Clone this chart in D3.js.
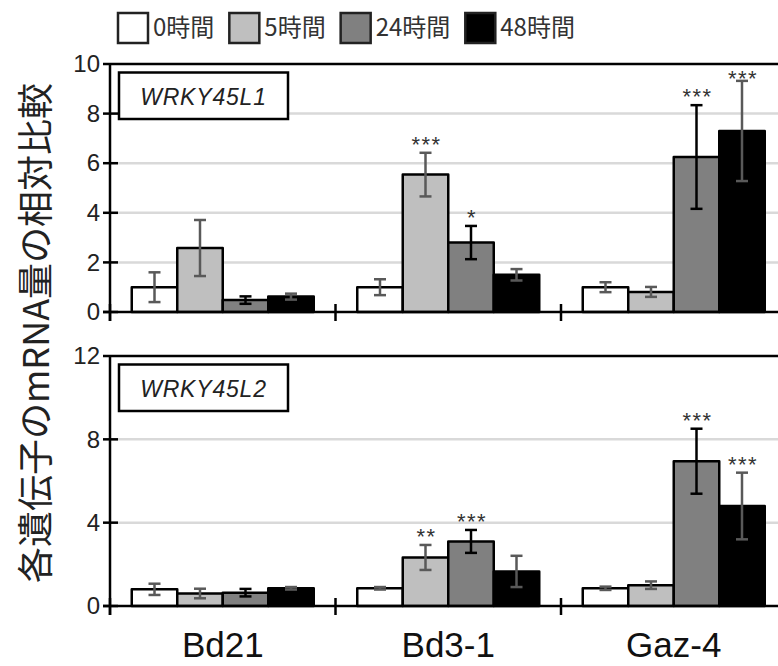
<!DOCTYPE html>
<html lang="ja">
<head>
<meta charset="utf-8">
<script src="https://d3js.org/d3.v7.min.js"></script>
<style>
  body { margin: 0; background: #fff; }
  text { font-family: "Liberation Sans", Arial, sans-serif; }
  .jp { font-family: "Noto Sans CJK JP", "Noto Sans CJK SC", sans-serif; }
</style>
</head>
<body>
<div id="chart"></div>
<script>
// strains (x categories) and time points (series)
var strains = ["Bd21", "Bd3-1", "Gaz-4"];
var times = ["0時間", "5時間", "24時間", "48時間"];
var fills = ["#ffffff", "#bfbfbf", "#808080", "#000000"];
var errColors = ["#595959", "#595959", "#000000", "#595959"];

// WRKY45L1: mean per strain x time
var l1Mean = [
  [1.0, 2.58, 0.48, 0.62],
  [1.0, 5.54, 2.80, 1.50],
  [1.0, 0.81, 6.25, 7.30]
];
var l1Err = [
  [0.6, 1.13, 0.15, 0.12],
  [0.32, 0.88, 0.67, 0.23],
  [0.2, 0.2, 2.09, 2.02]
];
var l1Stars = [
  ["", "", "", ""],
  ["", "***", "*", ""],
  ["", "", "***", "***"]
];

// WRKY45L2
var l2Mean = [
  [0.80, 0.60, 0.64, 0.85],
  [0.85, 2.33, 3.10, 1.66],
  [0.85, 1.00, 6.95, 4.80]
];
var l2Err = [
  [0.27, 0.23, 0.18, 0.06],
  [0.06, 0.60, 0.55, 0.75],
  [0.08, 0.18, 1.56, 1.60]
];
var l2Stars = [
  ["", "", "", ""],
  ["", "**", "***", ""],
  ["", "", "***", "***"]
];

var l1Ticks = [0, 2, 4, 6, 8, 10];
var l2Ticks = [0, 4, 8, 12];

var W = 778, H = 666;
var svg = d3.select("#chart").append("svg").attr("width", W).attr("height", H);

var x0 = 110, groupW = 225.5;
var xGroup = d3.scaleBand().domain(strains).range([x0, x0 + groupW * strains.length]).padding(0);
var xInner = d3.scaleBand().domain(times).range([0, groupW]).paddingInner(0).paddingOuter(0.478);

function panel(opts) {
  var y = d3.scaleLinear().domain([0, opts.max]).range([opts.bottom, opts.top]);
  var g = svg.append("g");

  // gridlines
  g.selectAll(".grid").data(opts.ticks.filter(function(t){ return t > 0 && t < opts.max; }))
    .enter().append("line")
    .attr("x1", x0).attr("x2", W)
    .attr("y1", function(d){ return y(d); }).attr("y2", function(d){ return y(d); })
    .attr("stroke", "#d9d9d9").attr("stroke-width", 2.5);

  // top frame line
  g.append("line").attr("x1", x0).attr("x2", W)
    .attr("y1", y(opts.max)).attr("y2", y(opts.max))
    .attr("stroke", "#000").attr("stroke-width", 2.5);

  // gene label box
  g.append("rect").attr("x", 119).attr("y", y(opts.max) + 8.5).attr("width", 169).attr("height", 46.5)
    .attr("fill", "#fff").attr("stroke", "#000").attr("stroke-width", 2.5);
  g.append("text").attr("x", 203.5).attr("y", y(opts.max) + 41)
    .attr("text-anchor", "middle").attr("font-style", "italic").attr("font-size", 23)
    .attr("letter-spacing", 0.8).attr("fill", "#222").text(opts.gene);

  // bars
  var rows = [];
  opts.mean.forEach(function(r, i) {
    r.forEach(function(v, j) {
      rows.push({ strain: strains[i], t: j, v: v, e: opts.err[i][j], s: opts.stars[i][j] });
    });
  });
  var bw = xInner.bandwidth();
  g.selectAll(".bar").data(rows).enter().append("rect")
    .attr("x", function(d){ return xGroup(d.strain) + xInner(times[d.t]); })
    .attr("y", function(d){ return y(d.v); })
    .attr("width", bw)
    .attr("height", function(d){ return y(0) - y(d.v); })
    .attr("fill", function(d){ return fills[d.t]; })
    .attr("stroke", "#000").attr("stroke-width", 2.5).attr("stroke-linejoin", "round");

  // error bars
  var eb = g.selectAll(".err").data(rows).enter().append("g")
    .attr("stroke", function(d){ return errColors[d.t]; }).attr("stroke-width", 2.5);
  function cx(d){ return xGroup(d.strain) + xInner(times[d.t]) + bw / 2; }
  eb.append("line").attr("x1", cx).attr("x2", cx)
    .attr("y1", function(d){ return y(d.v + d.e); }).attr("y2", function(d){ return y(d.v - d.e); });
  [1, -1].forEach(function(sg) {
    eb.append("line")
      .attr("x1", function(d){ return cx(d) - 6; }).attr("x2", function(d){ return cx(d) + 6; })
      .attr("y1", function(d){ return y(d.v + sg * d.e); }).attr("y2", function(d){ return y(d.v + sg * d.e); });
  });

  // significance stars
  g.selectAll(".star").data(rows.filter(function(d){ return d.s; })).enter().append("text")
    .attr("x", function(d){ return cx(d) + 1; })
    .attr("y", function(d){ return Math.max(y(d.v + d.e) - 1, y(opts.max) + 22); })
    .attr("text-anchor", "middle").attr("font-size", 22).attr("letter-spacing", 1.5)
    .attr("fill", "#333").text(function(d){ return d.s; });

  // y axis
  var yAxis = d3.axisLeft(y).tickValues(opts.ticks).tickSize(0).tickPadding(10).tickFormat(d3.format("d"));
  var ya = g.append("g").attr("transform", "translate(" + x0 + ",0)").call(yAxis);
  ya.select(".domain").remove();
  ya.selectAll("text").attr("font-size", 24).attr("fill", "#222")
    .attr("font-family", "'Liberation Sans', Arial, sans-serif");
  g.selectAll(".ytick").data(opts.ticks).enter().append("line")
    .attr("x1", x0 - 7).attr("x2", function(d){ return d === opts.max ? x0 : x0 + 8; })
    .attr("y1", function(d){ return y(d); }).attr("y2", function(d){ return y(d); })
    .attr("stroke", "#000").attr("stroke-width", 2.5);
  g.append("line").attr("x1", x0).attr("x2", x0)
    .attr("y1", y(opts.max) - 1).attr("y2", y(0) + 9)
    .attr("stroke", "#000").attr("stroke-width", 2.5);

  // x axis baseline and group separators
  g.append("line").attr("x1", x0 - 7).attr("x2", W)
    .attr("y1", y(0)).attr("y2", y(0)).attr("stroke", "#000").attr("stroke-width", 2.5);
  g.selectAll(".xtick").data(strains).enter().append("line")
    .attr("x1", function(d){ return xGroup(d); }).attr("x2", function(d){ return xGroup(d); })
    .attr("y1", y(0) - 8).attr("y2", y(0) + 9)
    .attr("stroke", "#000").attr("stroke-width", 2.5);
}

panel({ gene: "WRKY45L1", max: 10, ticks: l1Ticks, top: 64, bottom: 312,
        mean: l1Mean, err: l1Err, stars: l1Stars });
panel({ gene: "WRKY45L2", max: 12, ticks: l2Ticks, top: 356, bottom: 606,
        mean: l2Mean, err: l2Err, stars: l2Stars });

// strain labels
svg.selectAll(".xlab").data(strains).enter().append("text")
  .attr("x", function(d){ return xGroup(d) + groupW / 2; })
  .attr("y", 657)
  .attr("text-anchor", "middle").attr("font-size", 35).attr("fill", "#111")
  .text(function(d){ return d; });

// y title
svg.append("text").attr("class", "jp")
  .attr("transform", "translate(33,333) rotate(-90)")
  .attr("text-anchor", "middle").attr("dominant-baseline", "central")
  .attr("font-size", 36).attr("fill", "#222")
  .text("各遺伝子のmRNA量の相対比較");

// legend
var lx = 118;
times.forEach(function(t, i) {
  svg.append("rect").attr("x", lx).attr("y", 13).attr("width", 30).attr("height", 30)
    .attr("fill", fills[i]).attr("stroke", "#222").attr("stroke-width", 2.5);
  var tx = svg.append("text").attr("class", "jp").attr("x", lx + 35).attr("y", 36)
    .attr("font-size", 24).attr("fill", "#333").text(t);
  lx = lx + 35 + tx.node().getComputedTextLength() + 15;
});
</script>
</body>
</html>
